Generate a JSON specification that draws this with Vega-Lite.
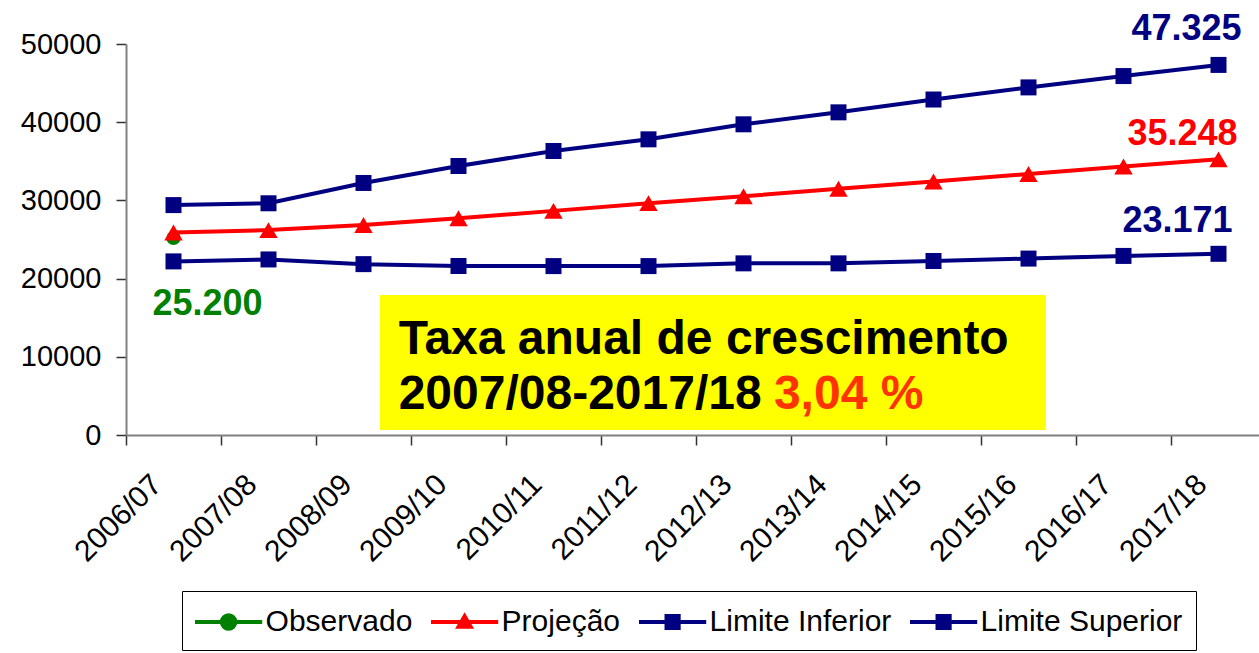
{
  "$schema": "https://vega.github.io/schema/vega-lite/v6.json",
  "width": 1133,
  "height": 391,
  "autosize": "none",
  "padding": {"left": 126, "top": 44, "right": 0, "bottom": 218},
  "background": "white",
  "config": {"view": {"stroke": null}, "font": "Liberation Sans"},
  "datasets": {
    "series": [
      {"ano": "2006/07", "serie": "Observado", "valor": 25200},
      {"ano": "2006/07", "serie": "Projeção", "valor": 25900},
      {"ano": "2007/08", "serie": "Projeção", "valor": 26200},
      {"ano": "2008/09", "serie": "Projeção", "valor": 26850},
      {"ano": "2009/10", "serie": "Projeção", "valor": 27720},
      {"ano": "2010/11", "serie": "Projeção", "valor": 28660},
      {"ano": "2011/12", "serie": "Projeção", "valor": 29650},
      {"ano": "2012/13", "serie": "Projeção", "valor": 30530},
      {"ano": "2013/14", "serie": "Projeção", "valor": 31480},
      {"ano": "2014/15", "serie": "Projeção", "valor": 32420},
      {"ano": "2015/16", "serie": "Projeção", "valor": 33370},
      {"ano": "2016/17", "serie": "Projeção", "valor": 34330},
      {"ano": "2017/18", "serie": "Projeção", "valor": 35248},
      {"ano": "2006/07", "serie": "Limite Inferior", "valor": 22200},
      {"ano": "2007/08", "serie": "Limite Inferior", "valor": 22450},
      {"ano": "2008/09", "serie": "Limite Inferior", "valor": 21850},
      {"ano": "2009/10", "serie": "Limite Inferior", "valor": 21610},
      {"ano": "2010/11", "serie": "Limite Inferior", "valor": 21600},
      {"ano": "2011/12", "serie": "Limite Inferior", "valor": 21600},
      {"ano": "2012/13", "serie": "Limite Inferior", "valor": 21950},
      {"ano": "2013/14", "serie": "Limite Inferior", "valor": 21950},
      {"ano": "2014/15", "serie": "Limite Inferior", "valor": 22250},
      {"ano": "2015/16", "serie": "Limite Inferior", "valor": 22560},
      {"ano": "2016/17", "serie": "Limite Inferior", "valor": 22900},
      {"ano": "2017/18", "serie": "Limite Inferior", "valor": 23171},
      {"ano": "2006/07", "serie": "Limite Superior", "valor": 29400},
      {"ano": "2007/08", "serie": "Limite Superior", "valor": 29630},
      {"ano": "2008/09", "serie": "Limite Superior", "valor": 32230},
      {"ano": "2009/10", "serie": "Limite Superior", "valor": 34400},
      {"ano": "2010/11", "serie": "Limite Superior", "valor": 36320},
      {"ano": "2011/12", "serie": "Limite Superior", "valor": 37810},
      {"ano": "2012/13", "serie": "Limite Superior", "valor": 39730},
      {"ano": "2013/14", "serie": "Limite Superior", "valor": 41260},
      {"ano": "2014/15", "serie": "Limite Superior", "valor": 42900},
      {"ano": "2015/16", "serie": "Limite Superior", "valor": 44450},
      {"ano": "2016/17", "serie": "Limite Superior", "valor": 45900},
      {"ano": "2017/18", "serie": "Limite Superior", "valor": 47325}
    ]
  },
  "layer": [
    {
      "data": {"name": "series"},
      "encoding": {
        "x": {
          "field": "ano",
          "type": "nominal",
          "scale": {
            "type": "band",
            "domain": ["2006/07", "2007/08", "2008/09", "2009/10", "2010/11", "2011/12", "2012/13", "2013/14", "2014/15", "2015/16", "2016/17", "2017/18"],
            "range": [0, 1140],
            "paddingInner": 0,
            "paddingOuter": 0
          },
          "axis": {
            "title": null,
            "bandPosition": 0,
            "grid": false,
            "domainColor": "#808080",
            "domainWidth": 2,
            "tickColor": "#333333",
            "tickWidth": 1.5,
            "tickSize": 10,
            "labelAngle": -45,
            "labelAlign": "right",
            "labelBaseline": "top",
            "labelOffset": -27,
            "labelPadding": 24,
            "labelFont": "Liberation Sans",
            "labelFontSize": 30,
            "labelColor": "black",
            "labelOverlap": false,
            "labelBound": false,
            "labelFlush": false
          }
        },
        "y": {
          "field": "valor",
          "type": "quantitative",
          "scale": {"domain": [0, 50000], "nice": false, "zero": true},
          "axis": {
            "title": null,
            "grid": false,
            "values": [0, 10000, 20000, 30000, 40000, 50000],
            "format": "d",
            "domainColor": "#808080",
            "domainWidth": 2,
            "tickColor": "#333333",
            "tickWidth": 1.5,
            "tickSize": 10,
            "labelPadding": 15,
            "labelFont": "Liberation Sans",
            "labelFontSize": 29,
            "labelColor": "black"
          }
        }
      },
      "layer": [
        {
          "mark": {"type": "line", "strokeWidth": 4},
          "encoding": {
            "detail": {"field": "serie", "type": "nominal"},
            "color": {
              "field": "serie",
              "type": "nominal",
              "scale": {"domain": ["Observado", "Projeção", "Limite Inferior", "Limite Superior"], "range": ["#008000", "#FF0000", "#000080", "#000080"]},
              "legend": null
            }
          }
        },
        {
          "transform": [{"filter": "datum.serie === 'Observado'"}],
          "mark": {"type": "point", "shape": "circle", "filled": true, "opacity": 1, "color": "#008000", "size": 200}
        },
        {
          "transform": [{"filter": "datum.serie === 'Projeção'"}],
          "mark": {"type": "point", "shape": "triangle-up", "filled": true, "opacity": 1, "color": "#FF0000", "size": 340}
        },
        {
          "transform": [{"filter": "datum.serie === 'Limite Inferior' || datum.serie === 'Limite Superior'"}],
          "mark": {"type": "point", "shape": "square", "filled": true, "opacity": 1, "color": "#000080", "size": 256}
        },
        {
          "transform": [{"filter": "false"}],
          "mark": {"type": "point", "filled": true, "opacity": 1},
          "encoding": {
            "fill": {
              "field": "serie", "type": "nominal",
              "scale": {"domain": ["Observado", "Projeção", "Limite Inferior", "Limite Superior"], "range": ["#008000", "#FF0000", "#000080", "#000080"]},
              "legend": {
                "title": null,
                "orient": "none", "legendX": 56, "legendY": 547,
                "direction": "horizontal", "columns": 4,
                "labelFont": "Liberation Sans", "labelFontSize": 30, "labelColor": "black", "labelLimit": 400,
                "labelOffset": 19, "symbolOffset": 15.6, "symbolSize": 1024, "symbolStrokeWidth": 4,
                "columnPadding": 10, "padding": 13,
                "strokeColor": "#000000", "fillColor": "white"
              }
            },
            "stroke": {
              "field": "serie", "type": "nominal",
              "scale": {"domain": ["Observado", "Projeção", "Limite Inferior", "Limite Superior"], "range": ["#008000", "#FF0000", "#000080", "#000080"]},
              "legend": {
                "title": null,
                "orient": "none", "legendX": 56, "legendY": 547,
                "direction": "horizontal", "columns": 4,
                "labelFont": "Liberation Sans", "labelFontSize": 30, "labelColor": "black", "labelLimit": 400,
                "labelOffset": 19, "symbolOffset": 15.6, "symbolSize": 1024, "symbolStrokeWidth": 4,
                "columnPadding": 10, "padding": 13,
                "strokeColor": "#000000", "fillColor": "white"
              }
            },
            "shape": {
              "field": "serie", "type": "nominal",
              "scale": {
                "domain": ["Observado", "Projeção", "Limite Inferior", "Limite Superior"],
                "range": [
                  "M-2.1,0H2.1M-0.42,0A0.42,0.42,0,1,1,0.42,0A0.42,0.42,0,1,1,-0.42,0Z",
                  "M-2.1,0H2.1M0,-0.36L0.38,0.3H-0.38Z",
                  "M-2.1,0H2.1M-0.38,-0.38H0.38V0.38H-0.38Z",
                  "M-2.1,0H2.1M-0.38,-0.38H0.38V0.38H-0.38Z"
                ]
              },
              "legend": {
                "title": null,
                "orient": "none", "legendX": 56, "legendY": 547,
                "direction": "horizontal", "columns": 4,
                "labelFont": "Liberation Sans", "labelFontSize": 30, "labelColor": "black", "labelLimit": 400,
                "labelOffset": 19, "symbolOffset": 15.6, "symbolSize": 1024, "symbolStrokeWidth": 4,
                "columnPadding": 10, "padding": 13,
                "strokeColor": "#000000", "fillColor": "white"
              }
            }
          }
        },
        {
          "data": {"values": [{"ano": "2006/07", "valor": 25200, "rotulo": "25.200"}]},
          "mark": {"type": "text", "font": "Liberation Sans", "fontWeight": "bold", "fontSize": 36, "color": "#008000", "align": "center", "baseline": "middle", "dx": 34, "dy": 66},
          "encoding": {"text": {"field": "rotulo"}}
        },
        {
          "data": {"values": [{"ano": "2017/18", "valor": 47325, "rotulo": "47.325"}]},
          "mark": {"type": "text", "font": "Liberation Sans", "fontWeight": "bold", "fontSize": 36, "color": "#000080", "align": "center", "baseline": "middle", "dx": -32, "dy": -36},
          "encoding": {"text": {"field": "rotulo"}}
        },
        {
          "data": {"values": [{"ano": "2017/18", "valor": 35248, "rotulo": "35.248"}]},
          "mark": {"type": "text", "font": "Liberation Sans", "fontWeight": "bold", "fontSize": 36, "color": "#FF0000", "align": "center", "baseline": "middle", "dx": -36, "dy": -25},
          "encoding": {"text": {"field": "rotulo"}}
        },
        {
          "data": {"values": [{"ano": "2017/18", "valor": 23171, "rotulo": "23.171"}]},
          "mark": {"type": "text", "font": "Liberation Sans", "fontWeight": "bold", "fontSize": 36, "color": "#000080", "align": "center", "baseline": "middle", "dx": -41, "dy": -33},
          "encoding": {"text": {"field": "rotulo"}}
        }
      ]
    },
    {
      "data": {"values": [{"x0": 2.674, "x1": 9.684, "y0": 640, "y1": 17900}]},
      "mark": {"type": "rect", "color": "#FFFF00"},
      "encoding": {
        "x": {"field": "x0", "type": "quantitative", "scale": {"domain": [0, 12], "range": [0, 1140], "nice": false, "zero": false}, "axis": null},
        "x2": {"field": "x1"},
        "y": {"field": "y0", "type": "quantitative"},
        "y2": {"field": "y1"}
      }
    },
    {
      "data": {"values": [
        {"x": 2.87, "y": 10400, "texto": "Taxa anual de crescimento", "cor": "preto"},
        {"x": 2.87, "y": 3320, "texto": "2007/08-2017/18", "cor": "preto"},
        {"x": 6.82, "y": 3320, "texto": "3,04 %", "cor": "vermelho"}
      ]},
      "mark": {"type": "text", "font": "Liberation Sans", "fontWeight": "bold", "fontSize": 48, "align": "left", "baseline": "alphabetic"},
      "encoding": {
        "x": {"field": "x", "type": "quantitative", "scale": {"domain": [0, 12], "range": [0, 1140], "nice": false, "zero": false}, "axis": null},
        "y": {"field": "y", "type": "quantitative"},
        "text": {"field": "texto"},
        "color": {"field": "cor", "type": "nominal", "scale": {"domain": ["preto", "vermelho"], "range": ["#000000", "#FF3300"]}, "legend": null}
      }
    }
  ],
  "resolve": {"scale": {"x": "independent", "color": "independent"}}
}
